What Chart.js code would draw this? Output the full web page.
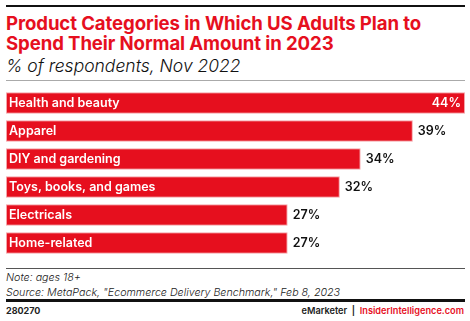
<!DOCTYPE html>
<html>
<head>
<meta charset="utf-8">
<script src="https://cdn.jsdelivr.net/npm/chart.js@4"></script>
<style>
    html, body { margin: 0; padding: 0; background: #fff; }
    body { width: 470px; height: 321px; position: relative; overflow: hidden; font-family: Inter, 'Liberation Sans', sans-serif; }
    .rule { position: absolute; left: 6px; width: 459px; }
    .title { position: absolute; left: 6px; top: 13px; color: #e60f1e; font-weight: 700; font-size: 18.6px; line-height: 20px; letter-spacing: -0.1px; }
    .subtitle { position: absolute; left: 6px; top: 55px; font-style: italic; font-size: 17.5px; line-height: 22px; color: #111; font-weight: 300; }
    .note { position: absolute; left: 6px; top: 270px; font-style: italic; font-size: 10.7px; line-height: 15px; color: #222; font-weight: 300; }
    .chartWrap { position: absolute; left: 6px; top: 89px; width: 459px; height: 168px; }
    .foot-id { position: absolute; left: 6px; top: 305px; font-size: 9px; font-weight: 700; color: #222; }
    .foot-brand { position: absolute; right: 6px; top: 305px; font-size: 9.2px; font-weight: 600; color: #222; }
    .foot-brand .red { color: #e60f1e; }
</style>
</head>
<body>
<div class="rule" style="top:5px;height:2px;background:#111;"></div>
<div class="title">Product Categories in Which US Adults Plan to<br>Spend Their Normal Amount in 2023</div>
<div class="subtitle">% of respondents, Nov 2022</div>
<div class="rule" style="top:80px;height:1px;background:#aaa;"></div>
<div class="chartWrap"><canvas id="barChart"></canvas></div>
<div class="rule" style="top:268px;height:1px;background:#555;"></div>
<div class="note">Note: ages 18+<br>Source: MetaPack, "Ecommerce Delivery Benchmark," Feb 8, 2023</div>
<div class="rule" style="top:299px;height:3px;background:#111;"></div>
<div class="foot-id">280270</div>
<div class="foot-brand">eMarketer &nbsp;|&nbsp; <span class="red">InsiderIntelligence.com</span></div>
<script>
// Data
const categories = ['Health and beauty', 'Apparel', 'DIY and gardening', 'Toys, books, and games', 'Electricals', 'Home-related'];
const values = [44, 39, 34, 32, 27, 27];
const barColor = '#e60f1e';

// Category names inside bars, values at the end
const barLabels = {
    id: 'barLabels',
    afterDatasetsDraw(chart) {
        const ctx = chart.ctx;
        const meta = chart.getDatasetMeta(0);
        ctx.save();
        ctx.textBaseline = 'middle';
        ctx.font = '600 12.5px Inter, "Liberation Sans", sans-serif';
        meta.data.forEach((bar, i) => {
            const left = bar.base;
            ctx.fillStyle = '#fff';
            ctx.textAlign = 'left';
            ctx.fillText(categories[i], left + 3, bar.y + 0.5);
            const txt = values[i] + '%';
            if (bar.x > chart.chartArea.right - 40) {
                ctx.textAlign = 'right';
                ctx.fillText(txt, bar.x - 4, bar.y + 0.5);
            } else {
                ctx.fillStyle = '#111';
                ctx.textAlign = 'left';
                ctx.fillText(txt, bar.x + 5, bar.y + 0.5);
            }
        });
        ctx.restore();
    }
};

new Chart(document.getElementById('barChart').getContext('2d'), {
    type: 'bar',
    data: {
        labels: categories,
        datasets: [{
            data: values,
            backgroundColor: barColor,
            borderColor: '#f5a3a8',
            borderWidth: 1,
            borderSkipped: false,
            barPercentage: 0.76,
            categoryPercentage: 1
        }]
    },
    options: {
        indexAxis: 'y',
        responsive: true,
        maintainAspectRatio: false,
        animation: false,
        layout: { padding: 0 },
        plugins: {
            legend: { display: false },
            tooltip: { enabled: false }
        },
        scales: {
            x: { display: false, min: 0, max: 44 },
            y: { display: false }
        }
    },
    plugins: [barLabels]
});
</script>
</body>
</html>
